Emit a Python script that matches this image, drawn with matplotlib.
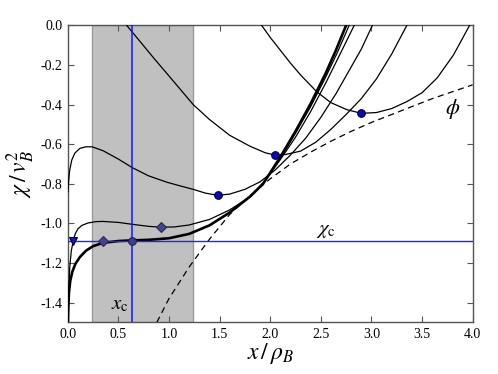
import matplotlib
matplotlib.use("Agg")
import matplotlib.pyplot as plt

plt.rcParams['font.family'] = ['Liberation Serif', 'DejaVu Serif']
plt.rcParams['mathtext.fontset'] = 'stix'
plt.rcParams['axes.unicode_minus'] = False

# envelope phi (dashed)
phi_x = [0.88, 1.0, 1.2, 1.4, 1.6, 1.8, 2.0, 2.2, 2.4, 2.6, 2.8, 3.0, 3.2, 3.4, 3.6, 3.8, 4.0]
phi_y = [-1.50, -1.38, -1.22, -1.08, -0.955, -0.86, -0.775, -0.70, -0.64, -0.585, -0.535,
         -0.49, -0.45, -0.41, -0.37, -0.335, -0.30]

# critical curve (thick)
a_x = [0.002, 0.006, 0.012, 0.025, 0.045, 0.075, 0.12, 0.18, 0.25, 0.35, 0.5, 0.63, 0.8,
       1.0, 1.2, 1.4, 1.6, 1.8, 1.93, 2.1, 2.25, 2.4, 2.55, 2.65, 2.75]
a_y = [-1.50, -1.42, -1.35, -1.29, -1.245, -1.205, -1.17, -1.138, -1.115, -1.098, -1.089,
       -1.086, -1.083, -1.075, -1.053, -1.01, -0.945, -0.865, -0.80, -0.665, -0.535,
       -0.395, -0.24, -0.125, 0.0]

# curve through triangle and diamond
b_x = [0.004, 0.01, 0.02, 0.035, 0.055, 0.075, 0.1, 0.14, 0.2, 0.28, 0.35, 0.5, 0.63, 0.8,
       0.92, 1.05, 1.2, 1.4, 1.6, 1.8, 1.93, 2.1, 2.25, 2.4, 2.55, 2.67, 2.78]
b_y = [-1.50, -1.34, -1.22, -1.14, -1.085, -1.052, -1.028, -1.010, -0.998, -0.991, -0.990,
       -0.995, -1.004, -1.015, -1.019, -1.018, -1.008, -0.98, -0.932, -0.866, -0.795,
       -0.672, -0.545, -0.41, -0.26, -0.13, 0.0]

# extra curve branch near the critical one
f_x = [1.8, 1.93, 2.1, 2.25, 2.4, 2.55, 2.7, 2.83]
f_y = [-0.865, -0.80, -0.678, -0.565, -0.435, -0.29, -0.135, 0.0]

# curve with minimum at x~1.48
c_x = [0.003, 0.01, 0.02, 0.04, 0.07, 0.12, 0.18, 0.24, 0.35, 0.5, 0.64, 0.8, 0.98, 1.1,
       1.24, 1.36, 1.48, 1.6, 1.75, 1.9, 2.05, 2.2, 2.35, 2.5, 2.65, 2.8, 2.9, 3.01]
c_y = [-0.84, -0.78, -0.73, -0.68, -0.645, -0.621, -0.613, -0.613, -0.633, -0.675, -0.719,
       -0.76, -0.792, -0.809, -0.828, -0.847, -0.858, -0.852, -0.828, -0.79, -0.73, -0.655,
       -0.57, -0.465, -0.345, -0.21, -0.12, 0.0]

# curve with minimum at x~2.05
d_x = [0.583, 0.7, 0.85, 1.0, 1.24, 1.4, 1.6, 1.8, 1.95, 2.05, 2.15, 2.3, 2.45, 2.6, 2.75,
       2.9, 3.05, 3.2, 3.35]
d_y = [0.0, -0.072, -0.165, -0.255, -0.40, -0.475, -0.555, -0.61, -0.643, -0.655, -0.652,
       -0.635, -0.59, -0.525, -0.45, -0.37, -0.27, -0.145, 0.0]

# curve with minimum at x~2.9
e_x = [1.916, 2.0, 2.1, 2.2, 2.3, 2.46, 2.6, 2.755, 2.9, 3.05, 3.2, 3.35, 3.5, 3.65, 3.81, 3.97]
e_y = [0.0, -0.06, -0.125, -0.19, -0.25, -0.335, -0.39, -0.425, -0.444, -0.44, -0.42,
       -0.385, -0.34, -0.265, -0.15, 0.0]

# markers
min_x = [1.48, 2.05, 2.9]
min_y = [-0.858, -0.655, -0.444]
band_dia_x = [0.35, 0.92]
band_dia_y = [-1.09, -1.019]
xc_pt = [0.635]
chic = -1.087
tri_x = [0.055]
band_lo, band_hi = 0.235, 1.235

xticks = [0.0, 0.5, 1.0, 1.5, 2.0, 2.5, 3.0, 3.5, 4.0]
yticks = [0.0, -0.2, -0.4, -0.6, -0.8, -1.0, -1.2, -1.4]

fig = plt.figure(figsize=(4.98, 3.74), dpi=100)
ax = fig.add_axes([0.136, 0.138, 0.813, 0.794])

ax.axvspan(band_lo, band_hi, facecolor='#c0c0c0', edgecolor='#9a9a9a', lw=1.0, zorder=1)

ax.plot(phi_x, phi_y, color='k', lw=0.9, ls=(0, (5, 3.5)), zorder=3)
ax.plot(a_x, a_y, color='k', lw=1.9, zorder=3)
for xs, ys in [(b_x, b_y), (f_x, f_y), (c_x, c_y), (d_x, d_y), (e_x, e_y)]:
    ax.plot(xs, ys, color='k', lw=0.9, zorder=3)

ax.axhline(chic, color='#2222ff', lw=1.0, zorder=4)
ax.axvline(xc_pt[0], color='#1515ff', lw=1.1, zorder=4)

ax.plot(min_x, min_y, 'o', ms=5.5, mfc='#0b0bb0', mec='#000044', mew=0.8, zorder=5, ls='none')
ax.plot(band_dia_x, band_dia_y, 'D', ms=5, mfc='#45458f', mec='#2a2a55', mew=0.8, zorder=5, ls='none')
ax.plot(xc_pt, [chic], 'o', ms=5.5, mfc='#3d3d90', mec='#22224f', mew=0.8, zorder=5, ls='none')
ax.plot(tri_x, [chic], 'v', ms=5.5, mfc='#1818a0', mec='#000044', mew=0.8, zorder=5, ls='none')

ax.text(2.55, -1.082, r'$\chi_{\rm c}$', fontsize=15, ha='center', va='bottom', zorder=6)
ax.text(0.52, -1.41, r'$x_{\rm c}$', fontsize=15, ha='center', va='center', zorder=6)
ax.text(3.8, -0.42, r'$\phi$', fontsize=16, ha='center', va='center', zorder=6)

ax.set_xlim(0, 4)
ax.set_ylim(-1.5, 0)
ax.set_xticks(xticks)
ax.set_yticks(yticks)
ax.set_xticklabels(['%.1f' % v for v in xticks])
ax.set_yticklabels(['%.1f' % v for v in yticks])
ax.tick_params(direction='in', top=True, right=True, length=4, width=0.8,
               labelsize=10, color='#555555', pad=4)
for s in ax.spines.values():
    s.set_color('#555555')
    s.set_linewidth(1.0)

ax.set_xlabel(r'$x\,/\,\rho_B$', fontsize=17, labelpad=0)
ax.set_ylabel(r'$\chi\,/\,v_B^2$', fontsize=17, labelpad=2)

fig.savefig('out.png', dpi=100)
